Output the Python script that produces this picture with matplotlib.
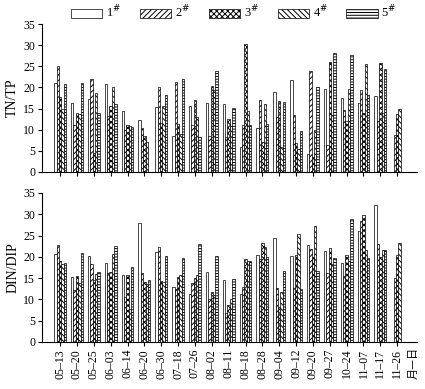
import numpy as np
import matplotlib.pyplot as plt
import matplotlib as mpl

mpl.rcParams.update({
    'font.family': ['Liberation Serif', 'Noto Sans CJK SC'],
    'font.size': 8.5,
    'hatch.linewidth': 0.7,
    'axes.linewidth': 0.8,
})

nan = np.nan
dates = ['05–13', '05–20', '05–25', '06–03', '06–14', '06–20', '06–30',
         '07–18', '07–26', '08–02', '08–11', '08–18', '08–28', '09–04',
         '09–12', '09–20', '09–27', '10–24', '11–07', '11–17', '11–26']
stations = ['1$^{\\#}$', '2$^{\\#}$', '3$^{\\#}$', '4$^{\\#}$', '5$^{\\#}$']

# TN/TP, one list per station
tn_tp_1 = [21.0, 16.3, 17.2, 20.8, 14.5, 12.3, 15.4, 8.4, 15.6, 16.4, 16.0,
           5.9, 10.5, 18.9, 21.7, 4.3, 19.7, 17.5, 16.4, 17.9, nan]
tn_tp_2 = [25.0, 11.0, 22.0, 13.2, 10.0, 10.5, 20.2, 21.2, 11.0, 8.5, 8.3,
           11.0, 17.1, 13.0, 13.4, 23.9, 6.3, 14.6, 19.5, 12.0, 8.7]
tn_tp_3 = [17.7, 14.0, 4.5, 15.7, 11.0, 8.6, 11.5, 11.4, 17.0, 20.3, 12.5,
           30.2, 7.0, 16.9, 6.9, 3.5, 26.0, 12.0, 14.0, 25.7, 13.8]
tn_tp_4 = [15.0, 13.8, 18.8, 20.1, 10.8, 7.0, 15.5, 9.0, 13.0, 19.5, 10.8,
           14.5, 16.1, 6.0, 5.5, 10.0, 13.5, 19.7, 25.6, 14.0, 15.0]
tn_tp_5 = [20.8, 21.0, 13.9, 16.1, 10.7, nan, 18.3, 22.1, 8.3, 24.0, 15.2,
           11.0, 11.4, 16.5, 9.6, 20.1, 28.1, 27.6, 18.1, 24.3, nan]

# DIN/DIP, one list per station
din_dip_1 = [20.7, 15.2, 20.2, 18.5, 15.8, 28.0, 21.2, 12.9, 11.3, 16.5, 14.6,
             11.3, 20.5, 24.5, 20.1, 22.7, 21.4, 18.5, 26.0, 32.1, nan]
din_dip_2 = [22.8, 12.2, 18.4, 16.1, 10.5, 16.1, 22.4, 12.5, 13.8, 10.1, 6.7,
             13.0, 19.5, 12.6, 12.6, 21.8, 16.1, 15.4, 28.3, 23.0, 15.0]
din_dip_3 = [19.0, 15.4, 14.6, 16.4, 15.7, 14.1, 14.2, 15.2, 15.0, 11.8, 8.7,
             19.4, 23.2, 8.3, 20.5, 20.0, 22.0, 20.5, 29.9, 20.0, 20.5]
din_dip_4 = [18.3, 13.9, 15.9, 20.7, 7.8, 13.5, 14.0, 15.8, 15.8, 11.0, 10.2,
             18.9, 22.3, 11.8, 25.3, 27.3, 18.3, 19.0, 21.6, 21.5, 23.2]
din_dip_5 = [18.5, 20.8, 16.4, 22.5, 17.5, 14.5, 20.3, 19.6, 22.9, 20.1, 14.9,
             18.9, 19.9, 16.7, 12.4, 16.6, 19.6, 28.9, 19.8, 21.6, nan]

hatches = ['', '//////', 'xxxxxx', '\\\\\\\\\\\\', '------']

fig = plt.figure(figsize=(4.25, 3.89), dpi=100)
ax1 = fig.add_axes([0.099, 0.558, 0.882, 0.380])
ax2 = fig.add_axes([0.099, 0.121, 0.882, 0.383])

x = np.arange(len(dates))
w = 0.14
panels = [(ax1, [tn_tp_1, tn_tp_2, tn_tp_3, tn_tp_4, tn_tp_5], 'TN/TP'),
          (ax2, [din_dip_1, din_dip_2, din_dip_3, din_dip_4, din_dip_5], 'DIN/DIP')]

for ax, series, ylab in panels:
    for i, vals in enumerate(series):
        ax.bar(x + (i - 2) * w, vals, w, color='white', edgecolor='black',
               hatch=hatches[i], linewidth=0.5, label=stations[i])
    ax.set_xlim(-1.07, 21.17)
    ax.set_ylim(0, 35)
    ax.set_yticks(np.arange(0, 36, 5))
    ax.set_xticks(x)
    ax.set_ylabel(ylab, fontsize=10, labelpad=3)
    ax.spines['top'].set_visible(False)
    ax.spines['right'].set_visible(False)
    ax.tick_params(direction='out', length=3, width=0.8, pad=2)

ax1.set_xticklabels([])
ax2.set_xticklabels(dates, rotation=90)
ax2.text(21.0, -1.2, '月—日', rotation=90, ha='center', va='top',
         family=['Noto Sans CJK SC'], fontsize=8)

handles, labels = ax1.get_legend_handles_labels()
fig.legend(handles, labels, loc='center', bbox_to_anchor=(0.55, 0.968), ncol=5,
           frameon=False, handlelength=2.5, handleheight=0.7, columnspacing=1.5,
           handletextpad=0.3, fontsize=9)

fig.savefig('out.png', dpi=100)
